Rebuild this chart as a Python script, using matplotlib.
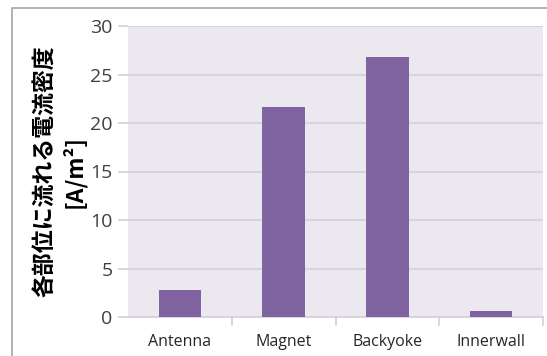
import matplotlib
matplotlib.use("Agg")
import matplotlib.pyplot as plt
from matplotlib.patches import Rectangle

plt.rcParams['font.family'] = ['Open Sans', 'Noto Sans CJK JP', 'DejaVu Sans']

categories = ["Antenna", "Magnet", "Backyoke", "Innerwall"]
values = [2.8, 21.7, 26.8, 0.6]
yticks = [0, 5, 10, 15, 20, 25, 30]
ylabel = "各部位に流れる電流密度\n[A/m²]"

W, H = 547, 356
fig = plt.figure(figsize=(W / 100, H / 100), dpi=100)
fig.patch.set_facecolor("white")

# outer chart frame (cut off on the right and bottom like the original)
fig.add_artist(Rectangle((12 / W, -0.1), 1.2, 1 - 8 / H + 0.1,
                         transform=fig.transFigure, fill=False,
                         edgecolor="#a6a6a6", linewidth=1.2))

ax = fig.add_axes([128 / W, 1 - 317 / H, 415 / W, 291 / H])
ax.set_facecolor("#ebe8ef")

x = range(len(categories))
ax.bar(x, values, width=0.41, color="#8064a2", zorder=3)

ax.set_xlim(-0.5, len(categories) - 0.5)
ax.set_ylim(0, 30)
ax.set_yticks(yticks)
ax.yaxis.grid(True, color="#d4d0da", linewidth=1.2, zorder=0)
ax.set_axisbelow(True)

for s in ["top", "right", "left"]:
    ax.spines[s].set_visible(False)
ax.spines["bottom"].set_color("#d4d0da")
ax.spines["bottom"].set_linewidth(1.2)

ax.tick_params(axis="y", length=7, color="#d4d0da", width=1.2,
               labelsize=14, labelcolor="#404040", pad=4)
ax.set_xticks(x)
ax.set_xticklabels(categories, fontsize=11.5, color="#262626")
ax.tick_params(axis="x", length=0, pad=12)
# category separators below the axis
for b in [0.5, 1.5, 2.5, 3.5]:
    ax.plot([b, b], [0, -0.8], color="#d4d0da", linewidth=1.2,
            clip_on=False, transform=ax.transData)

ax.set_ylabel(ylabel, fontsize=16.5, fontweight="bold",
              family=['Noto Sans CJK JP', 'DejaVu Sans'],
              linespacing=1.25, labelpad=3)

fig.savefig("out.png", dpi=100)
